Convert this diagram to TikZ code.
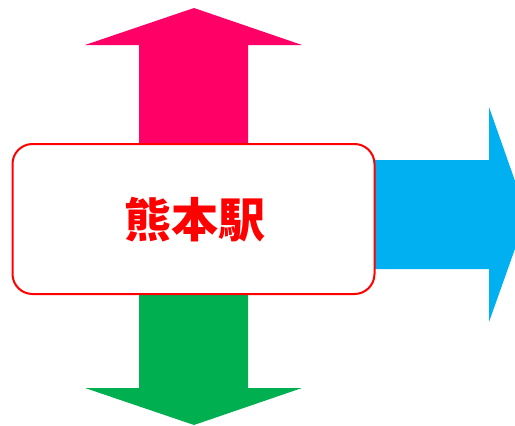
\documentclass[tikz,border=0pt]{standalone}
\usepackage{fontspec}
\newfontfamily\cjk{Noto Sans CJK JP}
\definecolor{arrowpink}{HTML}{FF0066}
\definecolor{arrowgreen}{HTML}{00B050}
\definecolor{arrowblue}{HTML}{00B0F0}
\definecolor{boxred}{HTML}{FF0000}
\tikzset{
  blockarrow/.style={draw=none},
  stationbox/.style={draw=boxred, line width=2pt, fill=white, rounded corners=20pt,
    minimum width=362pt, minimum height=150pt, inner sep=0pt},
  stationtext/.style={inner sep=0pt, font=\cjk\bfseries\fontsize{47pt}{52pt}\selectfont, text=boxred}
}
\begin{document}
\begin{tikzpicture}[x=1pt,y=-1pt]
\useasboundingbox (0,0) rectangle (515,426);
% up arrow (pink)
\fill[arrowpink, blockarrow] (139,220) -- (139,45) -- (85,45) -- (194,8) -- (302,45) -- (248,45) -- (248,220) -- cycle;
% down arrow (green)
\fill[arrowgreen, blockarrow] (139,220) -- (139,388) -- (85,388) -- (194,425) -- (302,388) -- (248,388) -- (248,220) -- cycle;
% right arrow (blue), tip clipped by the edge
\begin{scope}
\clip (0,0) rectangle (515,426);
\fill[arrowblue, blockarrow] (300,160) -- (489,160) -- (489,107) -- (527,215) -- (489,322) -- (489,269) -- (300,269) -- cycle;
\end{scope}
\node[stationbox] (station) at (193.5,219) {};
\node[stationtext] (name) at (195,220) {熊本駅};
\end{tikzpicture}
\end{document}
